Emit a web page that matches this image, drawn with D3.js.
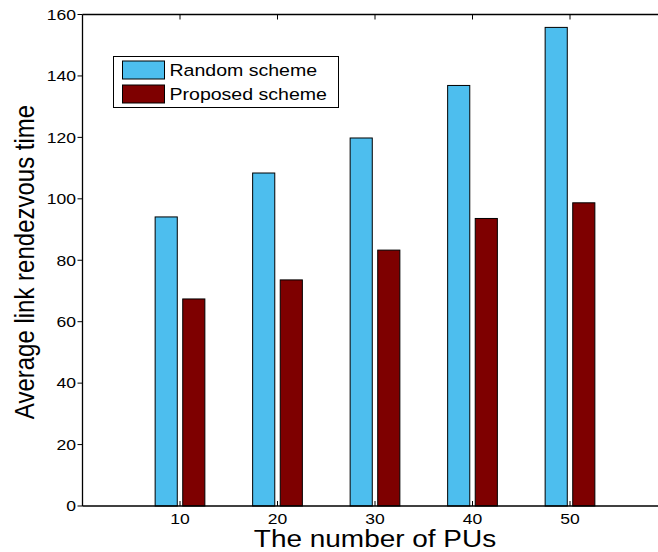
<!DOCTYPE html>
<html>
<head>
<meta charset="utf-8">
<script src="https://cdn.jsdelivr.net/npm/d3@7"></script>
<style>
  html, body { margin: 0; padding: 0; background: #fff; }
  svg { display: block; }
  text { font-family: "Liberation Sans", Arial, Helvetica, sans-serif; fill: #000; }
</style>
</head>
<body>
<svg id="chart" width="658" height="552"></svg>
<script>
const categories = [10, 20, 30, 40, 50];
const randomScheme = [94.1, 108.4, 119.8, 136.9, 155.8];
const proposedScheme = [67.4, 73.6, 83.3, 93.6, 98.7];
const yTicks = [0, 20, 40, 60, 80, 100, 120, 140, 160];
const seriesNames = ["Random scheme", "Proposed scheme"];
const seriesColors = ["#4DBEEE", "#7E0000"];
const xLabel = "The number of PUs";
const yLabel = "Average link rendezvous time";

const svg = d3.select("#chart");
const pL = 82.5, pT = 14.5, pB = 506, pR = 667.5;
const sx = 1.17; // horizontal text stretch

const x = d3.scaleLinear().domain([0, 60]).range([pL, pR]);
const y = d3.scaleLinear().domain([0, 160]).range([pB, pT]);

// bars
const barW = 2.27, gap = 0.28;
const series = [randomScheme, proposedScheme];
series.forEach((vals, si) => {
  svg.append("g").selectAll("rect").data(categories).enter().append("rect")
    .attr("x", (d) => si === 0 ? x(d - gap - barW) : x(d + gap))
    .attr("width", x(barW) - x(0))
    .attr("y", (d, i) => y(vals[i]))
    .attr("height", (d, i) => y(0) - y(vals[i]))
    .attr("fill", seriesColors[si])
    .attr("stroke", "#000")
    .attr("stroke-width", 1);
});

// axes
const axisG = svg.append("g");
axisG.append("line").attr("x1", pL).attr("x2", 658).attr("y1", pB).attr("y2", pB)
  .attr("stroke", "#000").attr("stroke-width", 1.3);
axisG.append("line").attr("x1", pL).attr("x2", 658).attr("y1", pT).attr("y2", pT)
  .attr("stroke", "#000").attr("stroke-width", 1.3);
axisG.append("line").attr("x1", pL).attr("x2", pL).attr("y1", pT).attr("y2", pB)
  .attr("stroke", "#000").attr("stroke-width", 1.3);

// x ticks (inward on bottom and top)
categories.forEach(c => {
  axisG.append("line").attr("x1", x(c)).attr("x2", x(c)).attr("y1", pB).attr("y2", pB - 5)
    .attr("stroke", "#000").attr("stroke-width", 1);
  axisG.append("line").attr("x1", x(c)).attr("x2", x(c)).attr("y1", pT).attr("y2", pT + 5)
    .attr("stroke", "#000").attr("stroke-width", 1);
  axisG.append("text")
    .attr("transform", `translate(${x(c)},524) scale(${sx},1)`)
    .attr("text-anchor", "middle")
    .attr("font-size", 15)
    .text(c);
});

// y ticks (outward)
yTicks.forEach(t => {
  axisG.append("line").attr("x1", pL - 5).attr("x2", pL).attr("y1", y(t)).attr("y2", y(t))
    .attr("stroke", "#000").attr("stroke-width", 1);
  axisG.append("text")
    .attr("transform", `translate(76,${y(t) + 5.3}) scale(${sx},1)`)
    .attr("text-anchor", "end")
    .attr("font-size", 15)
    .text(t);
});

// axis titles
svg.append("text")
  .attr("transform", `translate(${(254 + 496) / 2},547) scale(1.19,1)`)
  .attr("text-anchor", "middle")
  .attr("font-size", 23.5)
  .text(xLabel);

svg.append("text")
  .attr("transform", `translate(33.5,262) scale(${sx},1) rotate(-90)`)
  .attr("text-anchor", "middle")
  .attr("font-size", 24)
  .text(yLabel);

// legend
const lg = svg.append("g");
lg.append("rect").attr("x", 113.5).attr("y", 56.5).attr("width", 225).attr("height", 51)
  .attr("fill", "#fff").attr("stroke", "#000").attr("stroke-width", 1);
seriesNames.forEach((n, i) => {
  const yy = 61 + i * 24;
  lg.append("rect").attr("x", 122.5).attr("y", yy).attr("width", 42).attr("height", 18)
    .attr("fill", seriesColors[i]).attr("stroke", "#000").attr("stroke-width", 1);
  lg.append("text")
    .attr("transform", `translate(169.5,${yy + 15}) scale(1.15,1)`)
    .attr("font-size", 17)
    .text(n);
});
</script>
</body>
</html>
